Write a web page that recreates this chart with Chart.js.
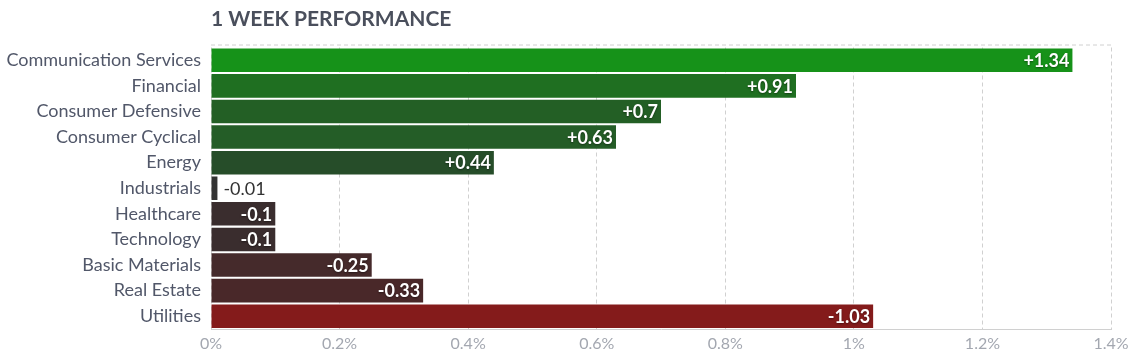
<!DOCTYPE html>
<html>
<head>
<meta charset="utf-8">
<script src="https://cdn.jsdelivr.net/npm/chart.js@4"></script>
<style>
  html, body { margin: 0; padding: 0; background: #fff; }
  #wrap { width: 1137px; height: 355px; position: relative; }
</style>
</head>
<body>
<div id="wrap"><canvas id="c"></canvas></div>
<script>
const titleText = '1 WEEK PERFORMANCE';
const sectors = ['Communication Services', 'Financial', 'Consumer Defensive', 'Consumer Cyclical', 'Energy',
  'Industrials', 'Healthcare', 'Technology', 'Basic Materials', 'Real Estate', 'Utilities'];
const changes = [1.34, 0.91, 0.70, 0.63, 0.44, -0.01, -0.10, -0.10, -0.25, -0.33, -1.03];
const barColors = ['#169219', '#1f6f21', '#235f25', '#245d27', '#264d29',
  '#333333', '#3a2d2e', '#3a2d2e', '#452a2b', '#492829', '#841b1b'];
const xTickLabels = ['0%', '0.2%', '0.4%', '0.6%', '0.8%', '1%', '1.2%', '1.4%'];

const FONT = 'Lato, "Noto Sans", sans-serif';

const extras = {
  id: 'extras',
  beforeDatasetsDraw(chart) {
    const { ctx, chartArea } = chart;
    ctx.save();
    ctx.strokeStyle = '#d0d0d0';
    ctx.lineWidth = 1;
    ctx.setLineDash([4, 3]);
    ctx.beginPath();
    ctx.moveTo(chartArea.left, chartArea.top - 2.5);
    ctx.lineTo(chartArea.right, chartArea.top - 2.5);
    ctx.stroke();
    ctx.restore();
  },
  afterDatasetsDraw(chart) {
    const { ctx, chartArea } = chart;
    const meta = chart.getDatasetMeta(0);
    ctx.save();
    // title
    ctx.font = 'bold 21px ' + FONT;
    ctx.fillStyle = '#4a4f5c';
    ctx.textAlign = 'left';
    ctx.textBaseline = 'middle';
    ctx.fillText(titleText, chartArea.left, 19);
    // value labels
    meta.data.forEach((bar, i) => {
      const v = changes[i];
      const txt = (v > 0 ? '+' : '') + String(v);
      const left = bar.base;
      const right = bar.x;
      ctx.font = 'bold 18px ' + FONT;
      const w = ctx.measureText(txt).width;
      ctx.textBaseline = 'middle';
      if (w + 8 <= right - left) {
        ctx.save();
        ctx.shadowColor = 'rgba(0,0,0,0.45)';
        ctx.shadowBlur = 2;
        ctx.shadowOffsetX = 0;
        ctx.shadowOffsetY = 1;
        ctx.fillStyle = '#ffffff';
        ctx.textAlign = 'right';
        ctx.fillText(txt, right - 3, bar.y + 1);
        ctx.restore();
      } else {
        ctx.font = '18px ' + FONT;
        ctx.fillStyle = '#333333';
        ctx.textAlign = 'left';
        ctx.fillText(txt, right + 6, bar.y + 1);
      }
    });
    ctx.restore();
  }
};

new Chart(document.getElementById('c'), {
  type: 'bar',
  data: {
    labels: sectors,
    datasets: [{
      data: changes.map(v => Math.abs(v)),
      backgroundColor: barColors,
      borderWidth: 0,
      barPercentage: 0.92,
      categoryPercentage: 1.0
    }]
  },
  options: {
    indexAxis: 'y',
    responsive: true,
    maintainAspectRatio: false,
    animation: false,
    layout: { padding: { top: 47.5, right: 26, left: 0, bottom: 0 } },
    plugins: { legend: { display: false }, tooltip: { enabled: false }, title: { display: false } },
    scales: {
      x: {
        min: 0, max: 1.4,
        ticks: {
          stepSize: 0.2,
          padding: 5,
          color: '#a3a7b0',
          font: { family: FONT, size: 16 },
          callback: (v, i) => xTickLabels[i]
        },
        grid: { color: '#d0d0d0', drawTicks: false, tickBorderDash: [4, 3] },
        border: { display: true, dash: [4, 3], color: '#d0d0d0' },
        afterFit(scale) { scale.height = 26; }
      },
      y: {
        ticks: {
          padding: 10,
          color: '#515769',
          font: { family: FONT, size: 18 }
        },
        grid: { display: false, drawTicks: false },
        border: { display: false },
        afterFit(scale) { scale.width = 211; }
      }
    },
    elements: { bar: { borderSkipped: false } }
  },
  plugins: [extras]
});
</script>
</body>
</html>
